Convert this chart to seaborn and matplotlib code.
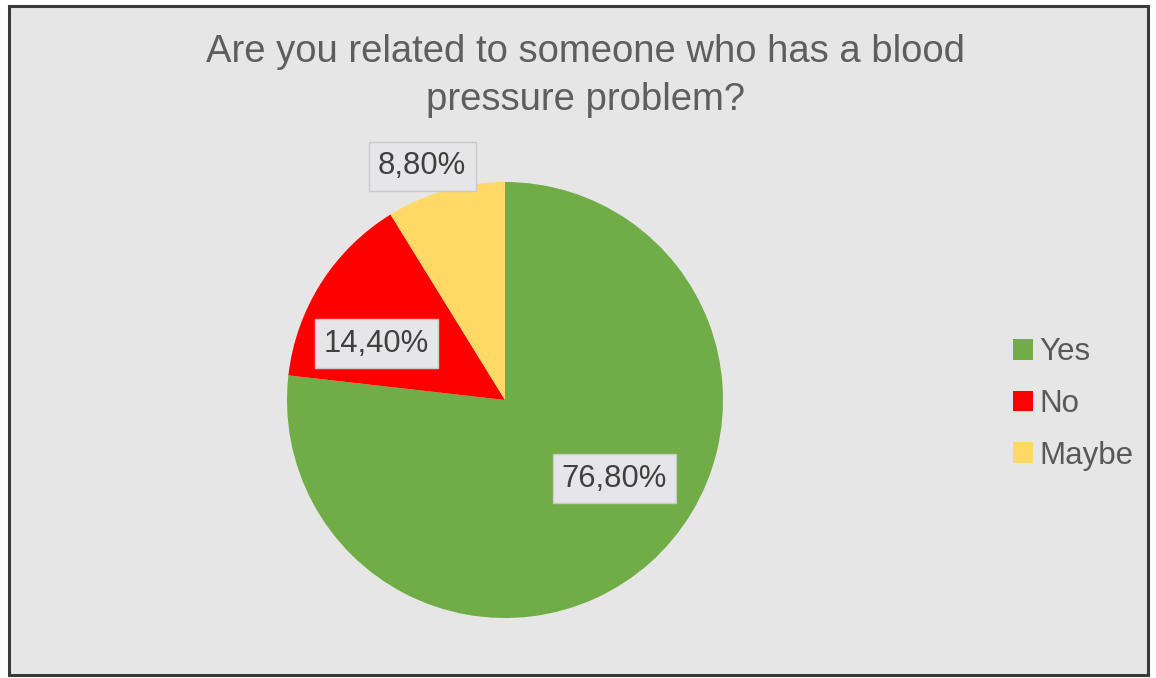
import matplotlib
matplotlib.use("Agg")
import matplotlib.pyplot as plt
import seaborn as sns
import numpy as np
from matplotlib.patches import Rectangle

categories = ["Yes", "No", "Maybe"]
values = [76.8, 14.4, 8.8]
pct_labels = ["76,80%", "14,40%", "8,80%"]
colors = ["#70ad47", "#ff0000", "#ffd966"]
title = "Are you related to someone who has a blood\npressure problem?"

sns.set_style("white")
plt.rcParams['font.family'] = ['Liberation Sans', 'DejaVu Sans']

W, H = 1156, 678
fig = plt.figure(figsize=(W/100, H/100), dpi=100)
fig.patch.set_facecolor("white")

# chart frame
frame = Rectangle((9/W, 3/H), (1148-9)/W, (672-3)/H, transform=fig.transFigure,
                  facecolor="#e7e6e6", edgecolor="#3a3a3a", linewidth=2.2, zorder=-5)
fig.patches.append(frame)

cx, cy, R = 505, 400, 218
half = 250
ax = fig.add_axes([(cx-half)/W, (H-cy-half)/H, 2*half/W, 2*half/H])
ax.set_zorder(2)
ax.set_facecolor("none")

wedges, _ = ax.pie(values, colors=colors, startangle=90, counterclock=False,
                   radius=1.0, wedgeprops=dict(linewidth=0))
lim = half / R
ax.set_xlim(-lim, lim)
ax.set_ylim(-lim, lim)
ax.set_aspect("equal")
ax.axis("off")

# label placement (distance from center, angle tweak in degrees)
label_place = [(0.618, 12.6), (0.644, 8.7), (1.137, 3.7)]
for w, txt, (d, da) in zip(wedges, pct_labels, label_place):
    mid = np.deg2rad((w.theta1 + w.theta2) / 2 + da)
    ax.text(d*np.cos(mid), d*np.sin(mid), txt, ha="center", va="center",
            fontsize=22.3, color="#404040", clip_on=False,
            bbox=dict(boxstyle="square,pad=0.3", facecolor="#e6e6e8",
                      edgecolor="#cacaca", linewidth=1))

fig.text(585/W, 1-76/H, title, ha="center", va="center", fontsize=27.5,
         color="#5e5e5e", linespacing=1.4)

leg = fig.legend(wedges, categories, loc="center left",
                 bbox_to_anchor=(985/W, 1-404/H), frameon=False,
                 fontsize=22.5, handlelength=0.65, handleheight=0.65,
                 handletextpad=0.2, labelspacing=0.7, labelcolor="#595959")

fig.savefig("out.png", dpi=100, facecolor="white")
